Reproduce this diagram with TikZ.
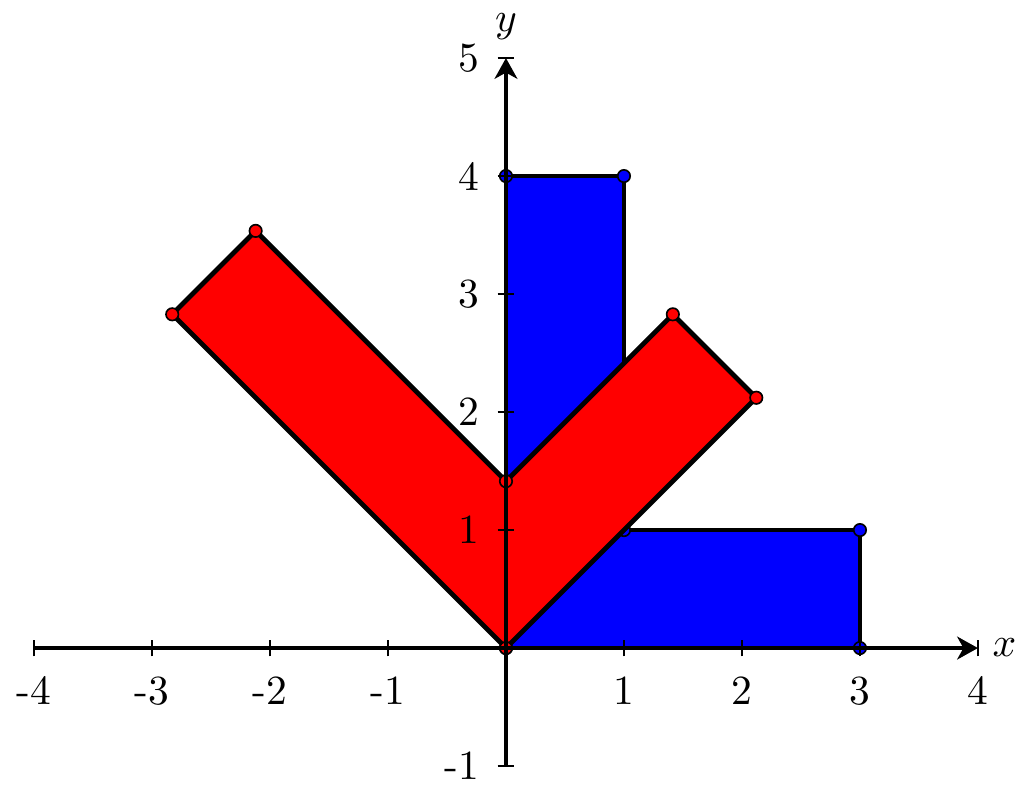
\documentclass[tikz,border=0pt]{standalone}
\usetikzlibrary{arrows.meta}
\begin{document}
\begin{tikzpicture}[x=1cm,y=1cm,
  shapeline/.style={draw=black,line width=1.15pt},
  vdot/.style={circle,draw=black,line width=0.4pt,inner sep=0pt,minimum size=3pt},
  axisline/.style={line width=1.15pt,-{Stealth[length=5pt,width=5.5pt,inset=1.5pt]}},
  tickline/.style={line width=0.4pt}]
\useasboundingbox (-4.288,-1.254) rectangle (4.475,5.492);
% blue L shape
\coordinate (b1) at (0,0);
\coordinate (b2) at (3,0);
\coordinate (b3) at (3,1);
\coordinate (b4) at (1,1);
\coordinate (b5) at (1,4);
\coordinate (b6) at (0,4);
\fill[blue] (b1) -- (b2) -- (b3) -- (b4) -- (b5) -- (b6) -- cycle;
\draw[shapeline] (b1) -- (b2) -- (b3) -- (b4) -- (b5) -- (b6) -- cycle;
\foreach \p in {b1,b2,b3,b4,b5,b6} \node[vdot,fill=blue] at (\p) {};
% red rotated L shape
\begin{scope}[rotate=45]
\coordinate (r1) at (0,0);
\coordinate (r2) at (3,0);
\coordinate (r3) at (3,1);
\coordinate (r4) at (1,1);
\coordinate (r5) at (1,4);
\coordinate (r6) at (0,4);
\end{scope}
\fill[red] (r1) -- (r2) -- (r3) -- (r4) -- (r5) -- (r6) -- cycle;
\draw[shapeline] (r1) -- (r2) -- (r3) -- (r4) -- (r5) -- (r6) -- cycle;
\foreach \p in {r1,r2,r3,r4,r5,r6} \node[vdot,fill=red] at (\p) {};
% axes
\coordinate (xs) at (-4,0);
\coordinate (xe) at (4,0);
\coordinate (ys) at (0,-1);
\coordinate (ye) at (0,5);
\draw[axisline] (xs) -- (xe);
\draw[axisline] (ys) -- (ye);
\foreach \x in {-4,...,4} {
  \draw[tickline] (\x,-0.07) -- (\x,0.07);
}
\foreach \x in {-4,-3,-2,-1,1,2,3,4} {
  \node[below] (xl\x) at (\x,-0.12) {\x};
}
\foreach \y in {-1,...,5} {
  \draw[tickline] (-0.07,\y) -- (0.07,\y);
}
\foreach \y in {-1,1,2,3,4,5} {
  \node[left] (yl\y) at (-0.1,\y) {\y};
}
\node[right] (xlab) at (4.0,0) {$x$};
\node (ylab) at (0,5.27) {$y$};
\end{tikzpicture}
\end{document}
